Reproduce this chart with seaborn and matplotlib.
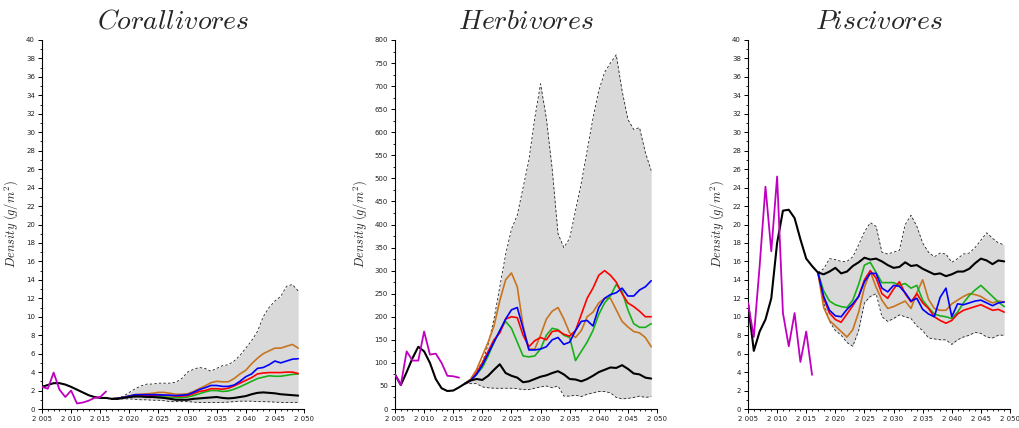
import numpy as np
import pandas as pd
import matplotlib
matplotlib.use("Agg")
import matplotlib.pyplot as plt
from matplotlib.ticker import MultipleLocator, FuncFormatter
import seaborn as sns

# ---------------- data ----------------
years_obs = list(range(2005, 2017))
years_all = list(range(2005, 2050))
years_proj = list(range(2017, 2050))

titles = ["Corallivores", "Herbivores", "Piscivores"]
ylims = [40, 800, 40]
ymajor = [2, 50, 2]

# Corallivores
cor_obs = [2.4, 2.2, 3.95, 2.1, 1.3, 2.0, 0.6, 0.7, 0.9, 1.2, 1.3, 1.9]
cor_base = [2.4, 2.6, 2.8, 2.8, 2.65, 2.4, 2.1, 1.8, 1.5, 1.3, 1.2, 1.2,
            1.1, 1.1, 1.2, 1.3, 1.35, 1.35, 1.3, 1.3, 1.25, 1.2, 1.1, 1.0, 1.0,
            1.0, 1.1, 1.15, 1.2, 1.25, 1.3, 1.2, 1.15, 1.2, 1.3, 1.4, 1.6,
            1.75, 1.8, 1.75, 1.7, 1.6, 1.55, 1.5, 1.45]
cor_hi = [1.1, 1.2, 1.4, 1.8, 2.2, 2.5, 2.7, 2.7, 2.8, 2.8, 2.8, 2.9, 3.3,
          4.0, 4.3, 4.5, 4.4, 4.1, 4.4, 4.7, 4.8, 5.2, 5.8, 6.6, 7.4, 8.4,
          10.0, 11.0, 11.7, 12.2, 13.3, 13.5, 12.8]
cor_lo = [1.1, 1.1, 1.1, 1.1, 1.05, 1.0, 1.0, 0.95, 0.95, 0.9, 0.8, 0.8, 0.8,
          0.8, 0.75, 0.7, 0.7, 0.7, 0.7, 0.72, 0.75, 0.8, 0.85, 0.85, 0.85,
          0.8, 0.8, 0.78, 0.75, 0.72, 0.7, 0.7, 0.7]
cor_orange = [1.1, 1.15, 1.25, 1.4, 1.55, 1.6, 1.65, 1.7, 1.8, 1.8, 1.7, 1.6,
              1.6, 1.65, 1.9, 2.2, 2.5, 2.85, 3.0, 2.95, 2.95, 3.3, 3.8, 4.2,
              4.9, 5.5, 6.0, 6.3, 6.6, 6.6, 6.8, 7.0, 6.6]
cor_blue = [1.1, 1.15, 1.25, 1.4, 1.55, 1.55, 1.55, 1.55, 1.55, 1.5, 1.5,
            1.45, 1.5, 1.55, 1.8, 2.1, 2.3, 2.55, 2.55, 2.45, 2.45, 2.6, 3.0,
            3.5, 3.8, 4.4, 4.5, 4.8, 5.2, 5.0, 5.2, 5.4, 5.45]
cor_red = [1.1, 1.15, 1.25, 1.4, 1.5, 1.5, 1.5, 1.5, 1.5, 1.5, 1.45, 1.4,
           1.4, 1.45, 1.65, 1.9, 2.0, 2.2, 2.2, 2.15, 2.25, 2.5, 2.8, 3.1,
           3.4, 3.8, 3.9, 3.95, 3.95, 3.95, 4.0, 4.0, 3.85]
cor_green = [1.1, 1.15, 1.25, 1.35, 1.45, 1.45, 1.4, 1.4, 1.35, 1.3, 1.25,
             1.25, 1.25, 1.3, 1.45, 1.65, 1.85, 2.0, 2.0, 1.9, 1.95, 2.15,
             2.4, 2.7, 3.0, 3.3, 3.45, 3.6, 3.55, 3.55, 3.65, 3.75, 3.8]

# Herbivores
her_obs = [75, 52, 125, 105, 105, 168, 118, 120, 100, 72, 71, 68]
her_base = [75, 52, 80, 110, 135, 125, 100, 65, 45, 39, 40, 47,
            55, 62, 65, 63, 72, 85, 97, 78, 72, 68, 58, 60, 65, 70, 73, 78,
            82, 75, 65, 64, 60, 65, 72, 80, 85, 90, 89, 95, 87, 77, 75, 68, 66]
her_hi = [55, 65, 85, 100, 140, 195, 265, 335, 390, 420, 480, 540, 630, 705,
          630, 520, 380, 350, 370, 430, 490, 560, 630, 690, 730, 750, 768,
          690, 628, 606, 610, 556, 517]
her_lo = [55, 55, 55, 48, 46, 45, 45, 45, 45, 44, 42, 42, 45, 48, 50, 46, 50,
          28, 28, 30, 27, 32, 35, 38, 38, 35, 25, 22, 23, 25, 28, 25, 27]
her_orange = [55, 65, 85, 115, 145, 180, 235, 280, 295, 265, 180, 130, 130,
              160, 195, 212, 220, 195, 165, 155, 170, 200, 210, 230, 240, 240,
              215, 190, 178, 168, 165, 155, 135]
her_blue = [55, 62, 75, 95, 120, 145, 170, 195, 215, 220, 175, 128, 128, 130,
            135, 150, 155, 140, 145, 170, 190, 192, 180, 220, 240, 248, 252,
            262, 245, 245, 258, 265, 278]
her_red = [55, 62, 78, 100, 125, 150, 165, 195, 200, 198, 160, 135, 148, 155,
           150, 168, 170, 162, 158, 170, 205, 240, 262, 290, 300, 290, 275,
           250, 230, 222, 212, 200, 200]
her_green = [55, 62, 75, 90, 115, 145, 170, 190, 175, 145, 115, 113, 115,
             130, 160, 175, 172, 160, 155, 105, 125, 145, 170, 205, 230, 245,
             270, 255, 215, 185, 177, 177, 185]

# Piscivores
pis_obs = [11.5, 7.8, 15.5, 24.1, 17.1, 25.2, 10.4, 6.8, 10.4, 5.1, 8.4, 3.7]
pis_base = [11.5, 6.3, 8.4, 9.7, 12.0, 18.0, 21.5, 21.6, 20.7, 18.4, 16.3,
            15.5, 14.8, 14.6, 14.9, 15.3, 14.7, 14.9, 15.5, 15.9, 16.4, 16.2,
            16.3, 16.0, 15.6, 15.3, 15.4, 15.9, 15.5, 15.6, 15.2, 14.9, 14.6,
            14.7, 14.4, 14.6, 14.9, 14.9, 15.2, 15.8, 16.3, 16.1, 15.7, 16.1,
            16.0]
pis_hi = [14.8, 15.2, 16.3, 16.2, 16.0, 16.0, 16.5, 17.8, 19.2, 20.2, 19.8,
          17.0, 16.8, 17.0, 17.2, 20.0, 21.0, 19.8, 18.0, 17.0, 16.5, 16.9,
          16.8, 15.9, 16.3, 16.8, 16.9, 17.5, 18.3, 19.1, 18.5, 18.0, 17.8]
pis_lo = [14.8, 11.5, 9.5, 8.5, 8.0, 7.2, 6.8, 8.5, 11.5, 12.2, 12.5, 10.0,
          9.5, 9.8, 10.2, 10.0, 9.8, 9.0, 8.5, 7.7, 7.6, 7.5, 7.5, 7.0, 7.5,
          7.8, 8.0, 8.3, 8.2, 7.8, 7.7, 8.0, 8.0]
pis_orange = [14.8, 11.0, 9.6, 9.0, 8.4, 7.8, 8.6, 10.5, 13.2, 14.9, 13.2,
              11.8, 10.9, 11.1, 11.4, 11.7, 10.9, 12.6, 14.0, 11.9, 10.9,
              10.7, 10.7, 11.4, 11.8, 12.2, 12.5, 12.4, 12.2, 11.8, 11.5,
              11.7, 11.6]
pis_blue = [14.8, 12.2, 10.7, 10.1, 10.0, 10.8, 11.4, 12.2, 13.8, 14.7, 14.7,
            13.1, 12.7, 13.4, 13.3, 12.6, 11.7, 12.0, 10.8, 10.3, 10.0, 12.1,
            13.1, 10.0, 11.4, 11.3, 11.5, 11.7, 11.8, 11.5, 11.2, 11.5, 11.6]
pis_red = [14.8, 12.0, 10.4, 9.7, 9.4, 10.3, 11.2, 12.2, 14.0, 15.0, 14.2,
           12.5, 12.0, 13.0, 13.8, 12.5, 11.6, 12.5, 11.5, 10.9, 10.0, 9.6,
           9.3, 9.6, 10.3, 10.7, 10.9, 11.1, 11.3, 11.0, 10.7, 10.8, 10.5]
pis_green = [14.8, 12.8, 11.7, 11.3, 11.1, 11.0, 11.8, 13.5, 15.6, 15.9, 14.8,
             13.7, 13.7, 13.7, 13.4, 13.6, 13.1, 13.4, 11.8, 11.0, 10.3, 10.1,
             10.0, 9.8, 10.5, 11.5, 12.3, 12.9, 13.4, 12.8, 12.2, 11.6, 11.1]

panels = [
    dict(obs=cor_obs, base=cor_base, hi=cor_hi, lo=cor_lo,
         scen=[cor_orange, cor_green, cor_red, cor_blue]),
    dict(obs=her_obs, base=her_base, hi=her_hi, lo=her_lo,
         scen=[her_orange, her_green, her_red, her_blue]),
    dict(obs=pis_obs, base=pis_base, hi=pis_hi, lo=pis_lo,
         scen=[pis_orange, pis_green, pis_red, pis_blue]),
]
scen_colors = ["#c8741e", "#19b019", "#ff0000", "#0000ff"]

# ---------------- plotting ----------------
sns.set_style("ticks")
plt.rcParams["mathtext.fontset"] = "cm"
plt.rcParams["font.family"] = ["DejaVu Sans"]

W, H = 1020, 428
fig = plt.figure(figsize=(W / 100, H / 100), dpi=100)
lefts = [42, 395, 748]
width = 262
bottom_px, top_px = 409, 40

fmt = FuncFormatter(lambda v, p: f"{int(round(v)):,}".replace(",", " "))

for i, pn in enumerate(panels):
    ax = fig.add_axes([lefts[i] / W, (H - bottom_px) / H, width / W,
                       (bottom_px - top_px) / H])
    ax.fill_between(years_proj, pn["lo"], pn["hi"], color="#d9d9d9",
                    linewidth=0, zorder=1)
    for band in (pn["hi"], pn["lo"]):
        sns.lineplot(x=years_proj, y=band, ax=ax, color="#222222",
                     linewidth=0.6, linestyle=(0, (3, 2.5)), zorder=2)
    for vals, c in zip(pn["scen"], scen_colors):
        sns.lineplot(x=years_proj, y=vals, ax=ax, color=c, linewidth=1.2,
                     zorder=3)
    sns.lineplot(x=years_all, y=pn["base"], ax=ax, color="black",
                 linewidth=1.5, zorder=4)
    sns.lineplot(x=years_obs, y=pn["obs"], ax=ax, color="#c000c0",
                 linewidth=1.3, zorder=5)

    ax.set_xlim(2005, 2050)
    ax.set_ylim(0, ylims[i])
    ax.xaxis.set_major_locator(MultipleLocator(5))
    ax.xaxis.set_minor_locator(MultipleLocator(1))
    ax.yaxis.set_major_locator(MultipleLocator(ymajor[i]))
    ax.yaxis.set_minor_locator(MultipleLocator(ymajor[i] / 2))
    ax.xaxis.set_major_formatter(fmt)
    ax.yaxis.set_major_formatter(fmt)
    ax.tick_params(which="major", length=3, width=0.7, labelsize=5,
                   pad=2, color="black", labelcolor="#222222")
    ax.tick_params(which="minor", length=1.6, width=0.6, color="black")
    for s in ("top", "right"):
        ax.spines[s].set_visible(False)
    for s in ("left", "bottom"):
        ax.spines[s].set_linewidth(0.8)
        ax.spines[s].set_color("black")
    ax.set_xlabel("")
    ax.set_ylabel(r"$Density\ (g/m^2)$", fontsize=9, labelpad=4)
    ax.set_title(r"$" + titles[i] + r"$", fontsize=20, pad=8)

fig.savefig("out.png", dpi=100)
